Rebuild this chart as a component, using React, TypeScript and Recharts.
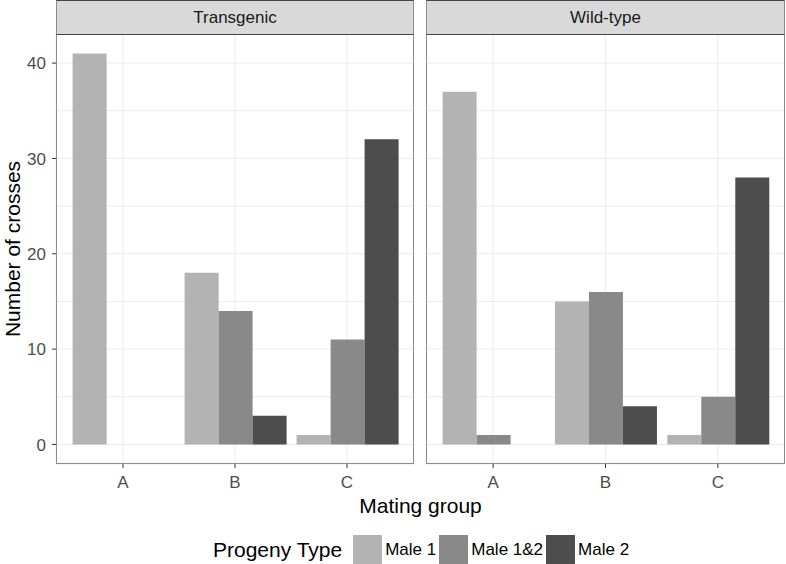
import React from 'react'
import { BarChart, Bar, XAxis, YAxis, CartesianGrid } from 'recharts'

// Mating group categories and counts per progeny type, one array per facet
const CATEGORIES = ['A', 'B', 'C']
const SERIES_NAMES = ['Male 1', 'Male 1&2', 'Male 2']
const TRANSGENIC_MALE1 = [41, 18, 1]
const TRANSGENIC_MALE12 = [0, 14, 11]
const TRANSGENIC_MALE2 = [0, 3, 32]
const WILDTYPE_MALE1 = [37, 15, 1]
const WILDTYPE_MALE12 = [1, 16, 5]
const WILDTYPE_MALE2 = [0, 4, 28]
const Y_TICKS = [0, 5, 10, 15, 20, 25, 30, 35, 40]
const Y_MAJOR = [0, 10, 20, 30, 40]

const FILLS = ['#B3B3B3', '#898989', '#4D4D4D']
const FONT = '"Liberation Sans", Arial, Helvetica, sans-serif'
// horizontal edges render crisp, vertical ones look softer in the original
const EDGE_H = '#444444'
const EDGE_V = '#8C8C8C'

const PLOT_TOP = 34
const PLOT_H = 430

function buildRows(m1: number[], m12: number[], m2: number[]) {
    return CATEGORIES.map((c, i) => ({ group: c, m1: m1[i], m12: m12[i], m2: m2[i] }))
}

const TRANSGENIC = buildRows(TRANSGENIC_MALE1, TRANSGENIC_MALE12, TRANSGENIC_MALE2)
const WILDTYPE = buildRows(WILDTYPE_MALE1, WILDTYPE_MALE12, WILDTYPE_MALE2)

// y tick: only majors get a label and a tick mark, minors just feed the grid
function YTick(props: any) {
    const { x, y, payload } = props
    if (!Y_MAJOR.includes(payload.value)) return null
    return (
        <g>
            <line x1={x + 6} x2={x + 10} y1={y} y2={y} stroke="#333333" />
            <text x={x} y={y} dy="0.36em" textAnchor="end" fill="#4D4D4D" fontSize={17} fontFamily={FONT}>
                {payload.value}
            </text>
        </g>
    )
}

interface PanelProps {
    title: string
    data: ReturnType<typeof buildRows>
    left: number
    width: number
    showY: boolean
}

function Panel({ title, data, left, width, showY }: PanelProps) {
    const yw = showY ? 56 : 0
    const plotW = width - yw
    const edges = {
        borderTop: `1px solid ${EDGE_H}`,
        borderBottom: `1px solid ${EDGE_H}`,
        borderLeft: `1px solid ${EDGE_V}`,
        borderRight: `1px solid ${EDGE_V}`,
        boxSizing: 'border-box' as const,
    }
    return (
        <>
            <div style={{ position: 'absolute', left, top: PLOT_TOP }}>
                <BarChart
                    width={width}
                    height={PLOT_H + 40}
                    data={data}
                    margin={{ top: 0, right: 0, bottom: 0, left: 0 }}
                    barCategoryGap="5%"
                    barGap={0}
                >
                    <CartesianGrid stroke="#EBEBEB" />
                    <XAxis
                        dataKey="group"
                        padding={{ left: 11, right: 11 }}
                        axisLine={false}
                        tickSize={4}
                        tickMargin={8}
                        tickLine={{ stroke: '#333333' }}
                        tick={{ fill: '#4D4D4D', fontSize: 17, fontFamily: FONT }}
                        height={40}
                    />
                    <YAxis
                        hide={!showY}
                        width={yw}
                        type="number"
                        domain={[-2.05, 43.05]}
                        ticks={Y_TICKS}
                        allowDataOverflow
                        axisLine={false}
                        tickLine={false}
                        tickSize={4}
                        tickMargin={6}
                        tick={<YTick />}
                        interval={0}
                    />
                    <Bar dataKey="m1" name={SERIES_NAMES[0]} fill={FILLS[0]} isAnimationActive={false} />
                    <Bar dataKey="m12" name={SERIES_NAMES[1]} fill={FILLS[1]} isAnimationActive={false} />
                    <Bar dataKey="m2" name={SERIES_NAMES[2]} fill={FILLS[2]} isAnimationActive={false} />
                </BarChart>
            </div>
            <div
                style={{
                    position: 'absolute',
                    left: left + yw,
                    top: PLOT_TOP,
                    width: plotW,
                    height: PLOT_H,
                    ...edges,
                    borderBottom: `1px solid ${EDGE_V}`,
                    pointerEvents: 'none',
                }}
            />
            <div
                style={{
                    position: 'absolute',
                    left: left + yw,
                    top: 0,
                    width: plotW,
                    height: PLOT_TOP + 1,
                    background: '#D9D9D9',
                    ...edges,
                    display: 'flex',
                    alignItems: 'center',
                    justifyContent: 'center',
                    fontSize: 17,
                    color: '#1A1A1A',
                }}
            >
                {title}
            </div>
        </>
    )
}

export default function App() {
    return (
        <div style={{ position: 'absolute', left: 0, top: 0, width: 786, height: 564, fontFamily: FONT, background: '#FFFFFF', overflow: 'hidden' }}>
            <Panel title="Transgenic" data={TRANSGENIC} left={0} width={414} showY />
            <Panel title="Wild-type" data={WILDTYPE} left={426} width={359} showY={false} />

            <div
                style={{
                    position: 'absolute',
                    left: 13,
                    top: PLOT_TOP + PLOT_H / 2,
                    transform: 'translate(-50%, -50%) rotate(-90deg)',
                    whiteSpace: 'nowrap',
                    fontSize: 21,
                    color: '#000000',
                }}
            >
                Number of crosses
            </div>
            <div
                style={{
                    position: 'absolute',
                    left: 56,
                    width: 729,
                    top: 494,
                    textAlign: 'center',
                    fontSize: 21,
                    color: '#000000',
                }}
            >
                Mating group
            </div>

            <div style={{ position: 'absolute', left: 213, top: 535, height: 29, display: 'flex', alignItems: 'center', color: '#000000' }}>
                <span style={{ fontSize: 21, marginRight: 11 }}>Progeny Type</span>
                {SERIES_NAMES.map((name, i) => (
                    <React.Fragment key={name}>
                        <span style={{ width: 29, height: 29, background: FILLS[i], display: 'inline-block' }} />
                        <span style={{ fontSize: 17, marginLeft: 3, marginRight: 3 }}>{name}</span>
                    </React.Fragment>
                ))}
            </div>
        </div>
    )
}
